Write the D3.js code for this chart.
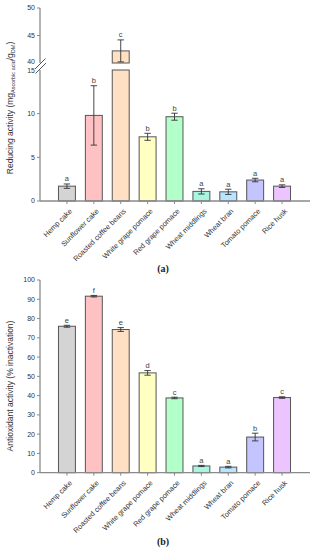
<!DOCTYPE html>
<html><head><meta charset="utf-8">
<script src="https://cdn.jsdelivr.net/npm/d3@7"></script>
<style>body{margin:0;background:#fff}svg{display:block}</style>
</head><body>
<svg id="c" width="314" height="550"></svg>
<script>
const categories = ["Hemp cake","Sunflower cake","Roasted coffee beans","White grape pomace","Red grape pomace","Wheat middlings","Wheat bran","Tomato pomace","Rice husk"];
const colors = ["#d4d4d4","#ffc2c4","#ffe0c2","#ffffc2","#b2ffca","#a8f5e0","#b8e4ff","#c4c4ff","#ecc4ff"];
const reducingValues = [1.7, 9.8, 42.2, 7.35, 9.65, 1.1, 1.05, 2.4, 1.7];
const reducingErrors = [0.25, 3.4, 2.0, 0.4, 0.4, 0.3, 0.3, 0.2, 0.15];
const reducingLetters = ["a","b","c","b","b","a","a","a","a"];
const antioxValues = [76.0, 91.6, 74.3, 51.8, 38.8, 3.5, 2.9, 18.5, 39.0];
const antioxErrors = [0.5, 0.4, 1.0, 1.2, 0.4, 0.3, 0.4, 2.0, 0.4];
const antioxLetters = ["e","f","e","d","c","a","a","b","c"];
const lowerTicks = [0,5,10];
const upperTicks = [45,50];
const antioxTicks = [0,10,20,30,40,50,60,70,80,90,100];

const svg = d3.select("#c");
const font = "Liberation Sans, Arial, sans-serif";
const axisCol = "#8a8a8a";
const x = d3.scaleBand().domain(categories).range([53.5, 295.5]).paddingInner(0.37).paddingOuter(0.185);

function xAxis(g, y0){
  g.append("line").attr("x1",40).attr("x2",310).attr("y1",y0).attr("y2",y0).attr("stroke",axisCol).attr("stroke-width",1.3);
  categories.forEach(c=>{
    const cx = x(c)+x.bandwidth()/2;
    g.append("line").attr("x1",cx).attr("x2",cx).attr("y1",y0).attr("y2",y0+3).attr("stroke",axisCol).attr("stroke-width",1);
    g.append("text").attr("transform",`translate(${cx+2},${y0+7}) rotate(-45)`).attr("text-anchor","end")
      .attr("dy","0.7em").attr("font-family",font).attr("font-size",7.3).attr("fill","#333").text(c);
  });
}
function yTick(g, y, label){
  g.append("line").attr("x1",37).attr("x2",40).attr("y1",y).attr("y2",y).attr("stroke",axisCol).attr("stroke-width",1);
  g.append("text").attr("x",35).attr("y",y).attr("dy","0.35em").attr("text-anchor","end")
    .attr("font-family",font).attr("font-size",7).attr("fill","#333").text(label);
}
function errBar(g, cx, yTop, yBot){
  g.append("line").attr("x1",cx).attr("x2",cx).attr("y1",yTop).attr("y2",yBot).attr("stroke","#333").attr("stroke-width",0.9);
  [yTop,yBot].forEach(yy=>g.append("line").attr("x1",cx-3.2).attr("x2",cx+3.2).attr("y1",yy).attr("y2",yy).attr("stroke","#333").attr("stroke-width",0.9));
}
function letter(g, cx, y, t){
  g.append("text").attr("x",cx).attr("y",y-2.5).attr("text-anchor","middle").attr("font-family",font)
    .attr("font-size",7.5).attr("fill","#444").text(t);
}
function barRect(g, i, yTop, yBot){
  g.append("rect").attr("x",x(categories[i])).attr("width",x.bandwidth()).attr("y",yTop).attr("height",yBot-yTop)
    .attr("fill",colors[i]).attr("stroke","#555").attr("stroke-width",1);
}

// ---- Chart (a)
const ga = svg.append("g");
const yLow = d3.scaleLinear().domain([0,15]).range([201,70]);
const yUp = d3.scaleLinear().domain([40,50]).range([63,8]);
ga.append("line").attr("x1",40).attr("x2",40).attr("y1",yLow(0)).attr("y2",yLow(15)).attr("stroke",axisCol).attr("stroke-width",1.3);
ga.append("line").attr("x1",40).attr("x2",40).attr("y1",yUp(40)).attr("y2",yUp(50)).attr("stroke",axisCol).attr("stroke-width",1.3);
lowerTicks.forEach(t=>yTick(ga,yLow(t),t));
upperTicks.forEach(t=>yTick(ga,yUp(t),t));
ga.append("text").attr("x",35).attr("y",yUp(40)-1).attr("dy","0.35em").attr("text-anchor","end").attr("font-family",font).attr("font-size",7).attr("fill","#333").text("40");
ga.append("text").attr("x",35).attr("y",yLow(15)+0.5).attr("dy","0.35em").attr("text-anchor","end").attr("font-family",font).attr("font-size",7).attr("fill","#333").text("15");
// break marks
ga.append("rect").attr("x",38).attr("y",yUp(40)).attr("width",5).attr("height",yLow(15)-yUp(40)).attr("fill","#fff");
ga.append("line").attr("x1",35).attr("y1",yUp(40)+6).attr("x2",45.5).attr("y2",yUp(40)-4.5).attr("stroke","#444").attr("stroke-width",0.9);
ga.append("line").attr("x1",35.5).attr("y1",yLow(15)+3.5).attr("x2",46).attr("y2",yLow(15)-7).attr("stroke","#444").attr("stroke-width",0.9);

reducingValues.forEach((v,i)=>{
  const cx = x(categories[i])+x.bandwidth()/2;
  const e = reducingErrors[i];
  if(v > 15){
    barRect(ga,i,yLow(15),yLow(0));
    barRect(ga,i,yUp(v),yUp(40));
    errBar(ga,cx,yUp(v+e),yUp(v-e));
    letter(ga,cx,yUp(v+e),reducingLetters[i]);
  } else {
    barRect(ga,i,yLow(v),yLow(0));
    errBar(ga,cx,yLow(v+e),yLow(v-e));
    letter(ga,cx,yLow(v+e),reducingLetters[i]);
  }
});
xAxis(ga, yLow(0));
const ta = ga.append("text").attr("transform","translate(13,108) rotate(-90)").attr("text-anchor","middle")
  .attr("font-family",font).attr("font-size",8.5).attr("fill","#333");
ta.append("tspan").text("Reducing activity (mg");
ta.append("tspan").attr("font-size",5.5).attr("dy",2).text("Ascorbic acid");
ta.append("tspan").attr("dy",-2).text("/g");
ta.append("tspan").attr("font-size",5.5).attr("dy",2).text("DM");
ta.append("tspan").attr("dy",-2).text(")");
svg.append("text").attr("x",163).attr("y",272).attr("text-anchor","middle").attr("font-family","Liberation Serif, Times New Roman, serif")
  .attr("font-weight","bold").attr("font-size",10).attr("fill","#222").text("(a)");

// ---- Chart (b)
const gb = svg.append("g");
const yB = d3.scaleLinear().domain([0,100]).range([472.7,280]);
gb.append("line").attr("x1",40).attr("x2",40).attr("y1",yB(0)).attr("y2",yB(100)).attr("stroke",axisCol).attr("stroke-width",1.3);
antioxTicks.forEach(t=>yTick(gb,yB(t),t));
antioxValues.forEach((v,i)=>{
  const cx = x(categories[i])+x.bandwidth()/2;
  const e = antioxErrors[i];
  barRect(gb,i,yB(v),yB(0));
  errBar(gb,cx,yB(v+e),yB(v-e));
  letter(gb,cx,yB(v+e),antioxLetters[i]);
});
xAxis(gb, yB(0));
gb.append("text").attr("transform","translate(13,386) rotate(-90)").attr("text-anchor","middle")
  .attr("font-family",font).attr("font-size",8.5).attr("fill","#333").text("Antioxidant activity (% inactivation)");
svg.append("text").attr("x",163).attr("y",545).attr("text-anchor","middle").attr("font-family","Liberation Serif, Times New Roman, serif")
  .attr("font-weight","bold").attr("font-size",10).attr("fill","#222").text("(b)");
</script>
</body></html>
